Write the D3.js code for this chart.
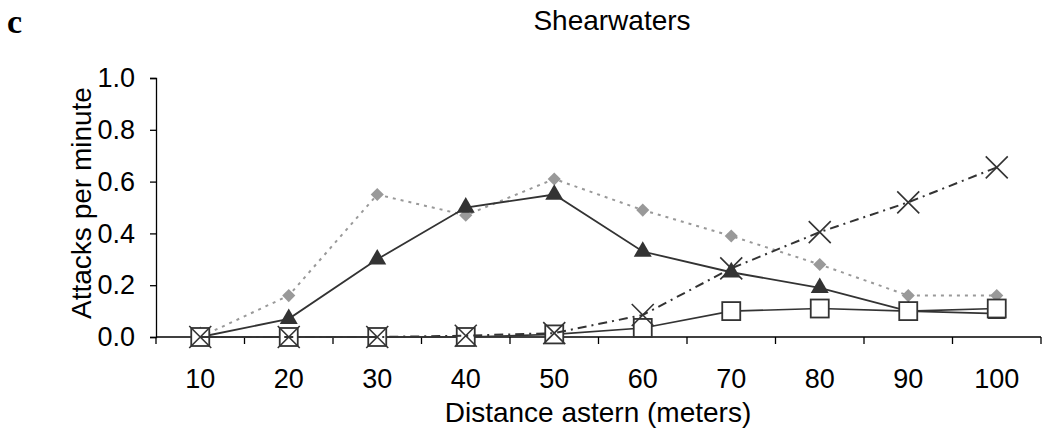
<!DOCTYPE html>
<html>
<head>
<meta charset="utf-8">
<script src="https://cdn.jsdelivr.net/npm/d3@7"></script>
<style>
  body { margin: 0; background: #fff; }
  svg { display: block; }
  text { font-family: "Liberation Sans", Arial, sans-serif; fill: #000; }
</style>
</head>
<body>
<svg id="chart" width="1042" height="439"></svg>
<script>
// Distance astern categories (meters)
const distances = ["10", "20", "30", "40", "50", "60", "70", "80", "90", "100"];
// Attacks per minute for each series
const diamondSeries  = [0.00, 0.16, 0.55, 0.47, 0.61, 0.49, 0.39, 0.28, 0.16, 0.16];
const triangleSeries = [0.00, 0.07, 0.30, 0.50, 0.55, 0.33, 0.25, 0.19, 0.10, 0.09];
const squareSeries   = [0.00, 0.00, 0.00, 0.00, 0.01, 0.035, 0.10, 0.11, 0.10, 0.11];
const crossSeries    = [0.00, 0.00, 0.00, 0.005, 0.015, 0.085, 0.265, 0.405, 0.52, 0.655];
const yTicks = [0, 0.2, 0.4, 0.6, 0.8, 1.0];

const svg = d3.select("#chart");
const plotLeft = 156, plotRight = 1041, plotTop = 78, plotBottom = 337;
const labelSize = "27px";

const x = d3.scaleBand().domain(distances).range([plotLeft, plotRight]);
const y = d3.scaleLinear().domain([0, 1]).range([plotBottom, plotTop]);
const cx = d => x(d) + x.bandwidth() / 2;

// Panel letter and title
svg.append("text").attr("x", 7).attr("y", 33)
  .style("font-family", "'Liberation Serif', 'Times New Roman', serif")
  .style("font-weight", "bold").style("font-size", "34px").text("c");
svg.append("text").attr("x", 612).attr("y", 30).attr("text-anchor", "middle")
  .style("font-size", "28px").text("Shearwaters");

// Y axis
const yAxis = d3.axisLeft(y).tickValues(yTicks).tickFormat(d3.format(".1f"))
  .tickSizeOuter(0).tickSize(6).tickPadding(15);
const gy = svg.append("g").attr("transform", `translate(${plotLeft},0)`).call(yAxis);
gy.selectAll("text").style("font-size", labelSize);
gy.selectAll("line, path").attr("stroke", "#000").attr("stroke-width", 1.3);

// X axis: ticks between categories
const gx = svg.append("g").attr("transform", `translate(0,${plotBottom})`);
gx.append("line").attr("x1", plotLeft).attr("x2", plotRight).attr("stroke", "#000").attr("stroke-width", 1.3);
const boundaries = distances.map(d => x(d)).concat([plotRight]);
gx.selectAll(".tk").data(boundaries).join("line")
  .attr("x1", d => d).attr("x2", d => d).attr("y1", 0).attr("y2", 7)
  .attr("stroke", "#000").attr("stroke-width", 1.3);
gx.selectAll(".lbl").data(distances).join("text")
  .attr("x", d => cx(d)).attr("y", 51).attr("text-anchor", "middle")
  .style("font-size", labelSize).text(d => d);

// Axis titles
svg.append("text").attr("x", 598).attr("y", 422).attr("text-anchor", "middle")
  .style("font-size", "28px").text("Distance astern (meters)");
svg.append("text").attr("transform", `translate(91,203) rotate(-90)`).attr("text-anchor", "middle")
  .style("font-size", "28px").text("Attacks per minute");

const line = d3.line().x((d, i) => cx(distances[i])).y(d => y(d));

// Diamond series: grey dotted
svg.append("path").datum(diamondSeries).attr("d", line).attr("fill", "none")
  .attr("stroke", "#999").attr("stroke-width", 2).attr("stroke-dasharray", "3,5");
svg.selectAll(".dia").data(diamondSeries).join("path")
  .attr("transform", (d, i) => `translate(${cx(distances[i])},${y(d)})`)
  .attr("d", d3.symbol(d3.symbolDiamond2, 110)()).attr("fill", "#999");

// Triangle series: dark solid
svg.append("path").datum(triangleSeries).attr("d", line).attr("fill", "none")
  .attr("stroke", "#333").attr("stroke-width", 1.8);
svg.selectAll(".tri").data(triangleSeries).join("path")
  .attr("transform", (d, i) => `translate(${cx(distances[i])},${y(d)})`)
  .attr("d", d3.symbol(d3.symbolTriangle, 140)()).attr("fill", "#333");

// Square series: open squares, solid line
svg.append("path").datum(squareSeries).attr("d", line).attr("fill", "none")
  .attr("stroke", "#333").attr("stroke-width", 1.6);
svg.selectAll(".sq").data(squareSeries).join("rect")
  .attr("x", (d, i) => cx(distances[i]) - 9).attr("y", d => y(d) - 9)
  .attr("width", 18).attr("height", 18)
  .attr("fill", "#fff").attr("stroke", "#333").attr("stroke-width", 1.8);

// Cross series: dash-dot line
svg.append("path").datum(crossSeries).attr("d", line).attr("fill", "none")
  .attr("stroke", "#333").attr("stroke-width", 2).attr("stroke-dasharray", "9,5,2,5");
svg.selectAll(".cr").data(crossSeries).join("path")
  .attr("transform", (d, i) => `translate(${cx(distances[i])},${y(d)})`)
  .attr("d", "M-11,-11L11,11M-11,11L11,-11")
  .attr("fill", "none").attr("stroke", "#333").attr("stroke-width", 1.6);
</script>
</body>
</html>
